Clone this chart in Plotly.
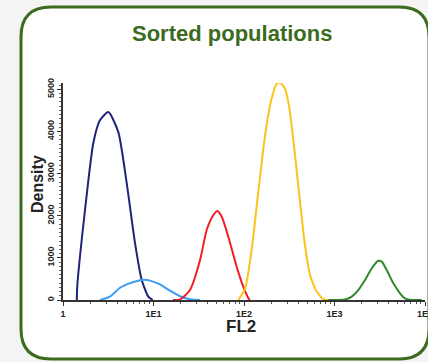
import plotly.graph_objects as go

# ---------------- data ----------------
navy_x = [1.42, 1.44, 1.75, 2.16, 2.56, 3.17, 4.08, 5.06, 6.25, 7.41, 8.77, 9.80]
navy_y = [0, 350, 2130, 3720, 4265, 4460, 3990, 2770, 1350, 475, 80, 0]

lblue_x = [2.56, 3.30, 4.27, 5.50, 7.10, 8.05, 9.14, 11.8, 15.2, 19.6, 25.3, 32.7]
lblue_y = [0, 80, 290, 400, 470, 480, 460, 370, 220, 90, 20, 0]

red_x = [16.4, 19.6, 25.3, 32.7, 38.7, 45.8, 50.7, 56.8, 67.1, 83.0, 98.2, 112, 116]
red_y = [0, 10, 237, 950, 1660, 2010, 2110, 1975, 1500, 790, 315, 40, 0]

yellow_x = [86.5, 103, 122, 144, 171, 202, 230, 250, 284, 322, 366, 416, 472, 536, 635, 752, 853]
yellow_y = [0, 277, 1225, 2566, 3910, 4780, 5135, 5160, 5015, 4460, 3435, 2330, 1300, 590, 200, 20, 0]

green_x = [853, 1306, 1549, 1832, 2173, 2576, 3048, 3327, 3776, 4467, 5297, 6012, 7129, 9204]
green_y = [0, 10, 80, 237, 475, 750, 930, 910, 710, 395, 160, 40, 0, 0]

x_tickvals = [1, 10, 100, 1000, 10000]
x_ticktext = ["1", "1E1", "1E2", "1E3", "1E4"]
y_tickvals = [0, 1000, 2000, 3000, 4000, 5000]
y_ticktext = ["0", "1000", "2000", "3000", "4000", "5000"]
x_minor = [m * 10 ** d for d in range(4) for m in range(2, 10)]

title_text = "Sorted populations"
x_title = "FL2"
y_title = "Density"

# ---------------- figure ----------------
W, H = 428, 362
ML, MR, MT, MB = 63, 3, 83, 62
PW, PH = W - ML - MR, H - MT - MB

def px(x):
    return (x - ML) / PW

def py(y):
    return (H - MB - y) / PH

GREEN = "#3c6b1e"
FONT = "Liberation Sans, Arial, sans-serif"
TXT = "#222222"

fig = go.Figure()
series = [
    (navy_x, navy_y, "#1f237a"),
    (lblue_x, lblue_y, "#3d9cf0"),
    (red_x, red_y, "#f01e23"),
    (yellow_x, yellow_y, "#fcc419"),
    (green_x, green_y, "#2e8a2a"),
]
for xs, ys, c in series:
    fig.add_trace(go.Scatter(x=xs, y=ys, mode="lines",
                             line=dict(color=c, width=2, shape="spline", smoothing=0.6),
                             showlegend=False, hoverinfo="skip"))

# rounded green frame
L, T, R, B, r = 21, 7, 429, 359, 30
path = (f"M {px(L)},{py(T + r)} Q {px(L)},{py(T)} {px(L + r)},{py(T)} "
        f"L {px(R - r)},{py(T)} Q {px(R)},{py(T)} {px(R)},{py(T + r)} "
        f"L {px(R)},{py(B - r)} Q {px(R)},{py(B)} {px(R - r)},{py(B)} "
        f"L {px(L + r)},{py(B)} Q {px(L)},{py(B)} {px(L)},{py(B - r)} Z")
fig.add_shape(type="path", path=path, xref="paper", yref="paper",
              line=dict(color=GREEN, width=3), fillcolor="white", layer="below")

fig.add_annotation(text=title_text, xref="paper", yref="paper",
                   x=px(232), y=py(33), xanchor="center", yanchor="middle",
                   showarrow=False,
                   font=dict(family=FONT, size=22, color=GREEN, weight="bold"))
fig.add_annotation(text=x_title, xref="paper", yref="paper",
                   x=px(241), y=py(326), xanchor="center", yanchor="middle",
                   showarrow=False,
                   font=dict(family=FONT, size=17, color=TXT, weight="bold"))
fig.add_annotation(text=y_title, xref="paper", yref="paper", textangle=-90,
                   x=px(37), y=py(184), xanchor="center", yanchor="middle",
                   showarrow=False,
                   font=dict(family=FONT, size=16, color=TXT, weight="bold"))

fig.update_layout(
    width=W, height=H,
    margin=dict(l=ML, r=MR, t=MT, b=MB, pad=0, autoexpand=False),
    paper_bgcolor="#f4f4f4",
    plot_bgcolor="rgba(0,0,0,0)",
    font=dict(family=FONT, color=TXT),
)
fig.update_xaxes(
    automargin=False,
    type="log", range=[0, 4], showgrid=False, zeroline=False,
    showline=True, linecolor="#333333", linewidth=1.5,
    tickmode="array", tickvals=x_tickvals, ticktext=x_ticktext,
    ticks="outside", ticklen=4, tickcolor="#333333", tickwidth=1,
    ticklabeloverflow="allow",
    tickfont=dict(family=FONT, size=9, weight="bold", color=TXT),
    minor=dict(tickmode="array", tickvals=x_minor, ticks="outside", ticklen=2,
               tickcolor="#555555", showgrid=False),
)
fig.update_yaxes(
    automargin=False,
    range=[0, 5150], showgrid=False, zeroline=False,
    showline=True, linecolor="#333333", linewidth=1.5,
    tickmode="array", tickvals=y_tickvals, ticktext=y_ticktext,
    ticks="outside", ticklen=4, tickcolor="#333333", tickangle=-90,
    tickfont=dict(family=FONT, size=9, weight="bold", color=TXT),
    minor=dict(dtick=100, ticks="outside", ticklen=2, tickcolor="#666666", showgrid=False),
)

fig.write_html("out.html", config={"displayModeBar": False},
               post_script="document.body.style.margin='0';document.body.style.overflow='hidden';")
